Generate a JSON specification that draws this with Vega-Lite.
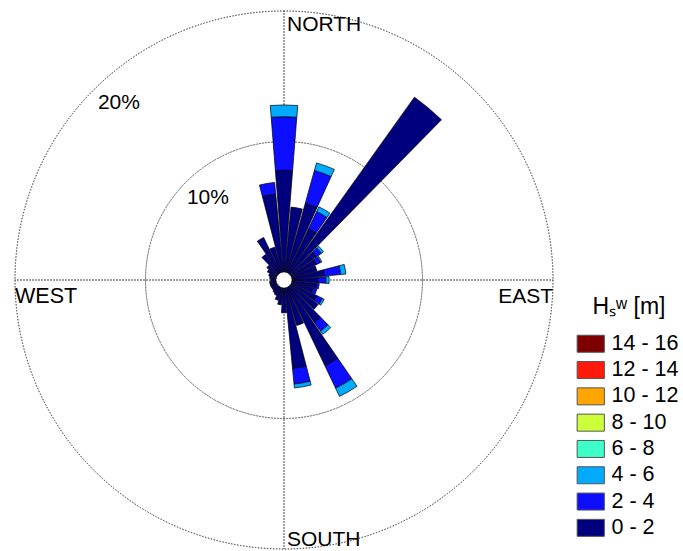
{
  "$schema": "https://vega.github.io/schema/vega-lite/v6.json",
  "width": 538,
  "height": 538,
  "autosize": {"type": "none"},
  "padding": {"left": 15, "top": 11, "right": 130, "bottom": 2},
  "background": "white",
  "config": {
    "view": {"stroke": null},
    "font": "Liberation Sans",
    "text": {"font": "Liberation Sans", "color": "black"}
  },
  "datasets": {
    "rose": [
      {"dir": 0, "Hs": "0 - 2", "lo": 0, "pct": 7.8},
      {"dir": 0, "Hs": "2 - 4", "lo": 2, "pct": 4.1},
      {"dir": 0, "Hs": "4 - 6", "lo": 4, "pct": 0.9},
      {"dir": 10, "Hs": "0 - 2", "lo": 0, "pct": 5.0},
      {"dir": 20, "Hs": "0 - 2", "lo": 0, "pct": 5.5},
      {"dir": 20, "Hs": "2 - 4", "lo": 2, "pct": 2.6},
      {"dir": 20, "Hs": "4 - 6", "lo": 4, "pct": 0.6},
      {"dir": 30, "Hs": "0 - 2", "lo": 0, "pct": 3.75},
      {"dir": 30, "Hs": "2 - 4", "lo": 2, "pct": 1.45},
      {"dir": 30, "Hs": "4 - 6", "lo": 4, "pct": 0.4},
      {"dir": 40, "Hs": "0 - 2", "lo": 0, "pct": 16.6},
      {"dir": 50, "Hs": "0 - 2", "lo": 0, "pct": 2.45},
      {"dir": 50, "Hs": "2 - 4", "lo": 2, "pct": 0.45},
      {"dir": 50, "Hs": "4 - 6", "lo": 4, "pct": 0.2},
      {"dir": 60, "Hs": "0 - 2", "lo": 0, "pct": 2.15},
      {"dir": 60, "Hs": "2 - 4", "lo": 2, "pct": 0.35},
      {"dir": 60, "Hs": "4 - 6", "lo": 4, "pct": 0.1},
      {"dir": 70, "Hs": "0 - 2", "lo": 0, "pct": 2.0},
      {"dir": 80, "Hs": "0 - 2", "lo": 0, "pct": 2.5},
      {"dir": 80, "Hs": "2 - 4", "lo": 2, "pct": 1.25},
      {"dir": 80, "Hs": "4 - 6", "lo": 4, "pct": 0.4},
      {"dir": 90, "Hs": "0 - 2", "lo": 0, "pct": 2.0},
      {"dir": 90, "Hs": "2 - 4", "lo": 2, "pct": 0.6},
      {"dir": 90, "Hs": "4 - 6", "lo": 4, "pct": 0.25},
      {"dir": 100, "Hs": "0 - 2", "lo": 0, "pct": 1.9},
      {"dir": 100, "Hs": "2 - 4", "lo": 2, "pct": 0.2},
      {"dir": 110, "Hs": "0 - 2", "lo": 0, "pct": 1.7},
      {"dir": 110, "Hs": "2 - 4", "lo": 2, "pct": 0.3},
      {"dir": 120, "Hs": "0 - 2", "lo": 0, "pct": 2.2},
      {"dir": 120, "Hs": "2 - 4", "lo": 2, "pct": 0.45},
      {"dir": 120, "Hs": "4 - 6", "lo": 4, "pct": 0.15},
      {"dir": 130, "Hs": "0 - 2", "lo": 0, "pct": 2.6},
      {"dir": 140, "Hs": "0 - 2", "lo": 0, "pct": 3.4},
      {"dir": 140, "Hs": "2 - 4", "lo": 2, "pct": 0.8},
      {"dir": 140, "Hs": "4 - 6", "lo": 4, "pct": 0.3},
      {"dir": 150, "Hs": "0 - 2", "lo": 0, "pct": 6.67},
      {"dir": 150, "Hs": "2 - 4", "lo": 2, "pct": 1.9},
      {"dir": 150, "Hs": "4 - 6", "lo": 4, "pct": 0.7},
      {"dir": 160, "Hs": "0 - 2", "lo": 0, "pct": 3.0},
      {"dir": 170, "Hs": "0 - 2", "lo": 0, "pct": 6.2},
      {"dir": 170, "Hs": "2 - 4", "lo": 2, "pct": 1.2},
      {"dir": 170, "Hs": "4 - 6", "lo": 4, "pct": 0.3},
      {"dir": 180, "Hs": "0 - 2", "lo": 0, "pct": 1.9},
      {"dir": 190, "Hs": "0 - 2", "lo": 0, "pct": 1.3},
      {"dir": 200, "Hs": "0 - 2", "lo": 0, "pct": 1.0},
      {"dir": 210, "Hs": "0 - 2", "lo": 0, "pct": 0.7},
      {"dir": 220, "Hs": "0 - 2", "lo": 0, "pct": 0.6},
      {"dir": 230, "Hs": "0 - 2", "lo": 0, "pct": 0.5},
      {"dir": 240, "Hs": "0 - 2", "lo": 0, "pct": 0.5},
      {"dir": 250, "Hs": "0 - 2", "lo": 0, "pct": 0.5},
      {"dir": 260, "Hs": "0 - 2", "lo": 0, "pct": 0.5},
      {"dir": 270, "Hs": "0 - 2", "lo": 0, "pct": 0.4},
      {"dir": 280, "Hs": "0 - 2", "lo": 0, "pct": 0.5},
      {"dir": 290, "Hs": "0 - 2", "lo": 0, "pct": 0.6},
      {"dir": 300, "Hs": "0 - 2", "lo": 0, "pct": 0.8},
      {"dir": 310, "Hs": "0 - 2", "lo": 0, "pct": 1.0},
      {"dir": 320, "Hs": "0 - 2", "lo": 0, "pct": 1.8},
      {"dir": 330, "Hs": "0 - 2", "lo": 0, "pct": 3.0},
      {"dir": 340, "Hs": "0 - 2", "lo": 0, "pct": 2.0},
      {"dir": 350, "Hs": "0 - 2", "lo": 0, "pct": 6.0},
      {"dir": 350, "Hs": "2 - 4", "lo": 2, "pct": 0.9}
    ]
  },
  "layer": [
    {
      "description": "Dotted percentage rings",
      "data": {"values": [{"ring": 10}, {"ring": 20}]},
      "mark": {"type": "arc", "filled": false, "color": "#444", "strokeWidth": 1, "strokeDash": [1, 2]},
      "encoding": {
        "theta": {"datum": 0, "type": "quantitative", "stack": null, "scale": {"domain": [0, 360]}},
        "theta2": {"datum": 360},
        "radius": {"field": "ring", "type": "quantitative", "scale": {"domain": [0, 20], "range": [8, 269], "zero": false}},
        "radius2": {"field": "ring"}
      }
    },
    {
      "description": "Dotted compass axes from the centre outwards",
      "data": {"values": [{"dir": 0}, {"dir": 90}, {"dir": 180}, {"dir": 270}]},
      "mark": {"type": "arc", "filled": false, "color": "#444", "strokeWidth": 1, "strokeDash": [1, 2]},
      "encoding": {
        "theta": {"field": "dir", "type": "quantitative", "stack": null},
        "theta2": {"field": "dir"},
        "radius": {"datum": 20, "type": "quantitative"}
      }
    },
    {
      "description": "Stacked wave-height sectors",
      "data": {"name": "rose"},
      "transform": [
        {"window": [{"op": "sum", "field": "pct", "as": "cum"}], "groupby": ["dir"], "sort": [{"field": "lo", "order": "ascending"}], "frame": [null, 0]},
        {"calculate": "datum.cum - datum.pct", "as": "base"},
        {"calculate": "datum.dir - 4.5", "as": "a0"},
        {"calculate": "datum.dir + 4.5", "as": "a1"}
      ],
      "mark": {"type": "arc", "stroke": "black", "strokeWidth": 0.7},
      "encoding": {
        "theta": {"field": "a0", "type": "quantitative", "stack": null},
        "theta2": {"field": "a1"},
        "radius": {"field": "cum", "type": "quantitative"},
        "radius2": {"field": "base"},
        "color": {
          "field": "Hs",
          "type": "nominal",
          "scale": {
            "domain": ["14 - 16", "12 - 14", "10 - 12", "8 - 10", "6 - 8", "4 - 6", "2 - 4", "0 - 2"],
            "range": ["#7f0000", "#ff1a0a", "#ffa500", "#ccff3a", "#3dffc8", "#00aaff", "#0d0dff", "#00007f"]
          },
          "legend": {
            "title": "Hₛʷ [m]",
            "orient": "none",
            "legendX": 565,
            "legendY": 285,
            "padding": 0,
            "titleFont": "Liberation Sans",
            "titleFontSize": 23,
            "titleFontWeight": "normal",
            "titleColor": "black",
            "titleAnchor": "middle",
            "titlePadding": 14,
            "labelFont": "Liberation Sans",
            "labelFontSize": 21.5,
            "labelColor": "black",
            "labelOffset": 10,
            "symbolType": "M-1.6,-1H1.6V1H-1.6Z",
            "symbolSize": 289,
            "symbolStrokeColor": "#555",
            "symbolStrokeWidth": 1,
            "symbolOpacity": 1,
            "rowPadding": 3.3
          }
        }
      }
    },
    {
      "data": {"values": [{"label": "NORTH", "dir": 0}]},
      "mark": {"type": "text", "align": "left", "baseline": "middle", "dx": 3, "fontSize": 21},
      "encoding": {
        "theta": {"field": "dir", "type": "quantitative", "stack": null},
        "radius": {"datum": 18.9, "type": "quantitative"},
        "text": {"field": "label"}
      }
    },
    {
      "data": {"values": [{"label": "SOUTH", "dir": 180}]},
      "mark": {"type": "text", "align": "left", "baseline": "middle", "dx": 3, "fontSize": 21},
      "encoding": {
        "theta": {"field": "dir", "type": "quantitative", "stack": null},
        "radius": {"datum": 19.3, "type": "quantitative"},
        "text": {"field": "label"}
      }
    },
    {
      "data": {"values": [{"label": "EAST", "dir": 90}]},
      "mark": {"type": "text", "align": "right", "baseline": "top", "dy": 6, "fontSize": 21},
      "encoding": {
        "theta": {"field": "dir", "type": "quantitative", "stack": null},
        "radius": {"datum": 20, "type": "quantitative"},
        "text": {"field": "label"}
      }
    },
    {
      "data": {"values": [{"label": "WEST", "dir": 270}]},
      "mark": {"type": "text", "align": "left", "baseline": "top", "dy": 6, "fontSize": 21.5},
      "encoding": {
        "theta": {"field": "dir", "type": "quantitative", "stack": null},
        "radius": {"datum": 20, "type": "quantitative"},
        "text": {"field": "label"}
      }
    },
    {
      "description": "Ring labels",
      "data": {"values": [{"label": "10%", "ring": 10}, {"label": "20%", "ring": 20}]},
      "mark": {"type": "text", "align": "center", "baseline": "middle", "radiusOffset": -27, "fontSize": 21},
      "encoding": {
        "theta": {"datum": 317, "type": "quantitative"},
        "radius": {"field": "ring", "type": "quantitative"},
        "text": {"field": "label"}
      }
    }
  ]
}
